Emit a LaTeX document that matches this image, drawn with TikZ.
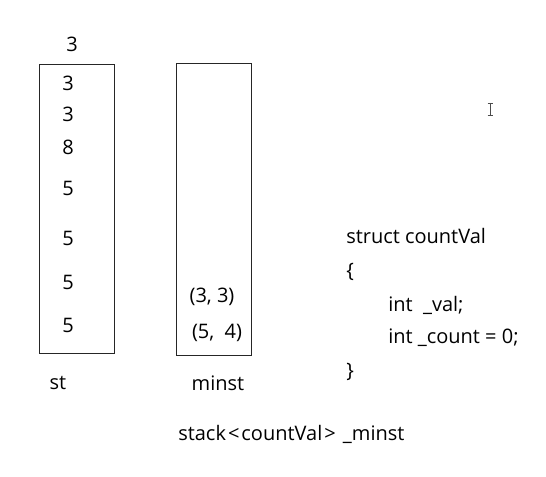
\documentclass[tikz,border=0pt]{standalone}
\usepackage{fontspec}
\setmainfont{Open Sans}
\begin{document}
\begin{tikzpicture}[x=0.75pt,y=0.75pt,yscale=-1,xscale=1,
  txt/.style={inner sep=0.75pt,font=\fontsize{15}{18}\selectfont},
  box/.style={draw=black!85,line width=0.75pt}]
\path (0,0) rectangle (546,477); %set diagram size

%Shape: Rectangle [id:st]
\draw [box] (39,65) rectangle (114,353) ;
%Shape: Rectangle [id:minst]
\draw [box] (176,64) rectangle (251,355) ;
%Shape: Cursor
\draw [black!70,line width=0.6pt] (490,103) -- (490,115) (487.5,103) -- (492.5,103) (487.5,115) -- (492.5,115) ;

% Text Node
\node [txt] (top) at (72,44) {3};
% Text Node
\node [txt] (s1) at (68,83) {3};
% Text Node
\node [txt] (s2) at (68,114) {3};
% Text Node
\node [txt] (s3) at (68,147) {8};
% Text Node
\node [txt] (s4) at (68,188) {5};
% Text Node
\node [txt] (s5) at (68,238) {5};
% Text Node
\node [txt] (s6) at (68,282) {5};
% Text Node
\node [txt] (s7) at (68,325) {5};
% Text Node
\node [txt] (m1) at (212,297) {(3, 3)};
% Text Node
\node [txt] (m2) at (217,333) {(5, \ 4)};
% Text Node
\node [txt] (stname) at (58,383) {st};
% Text Node
\node [txt] (minstname) at (218,383) {minst};
% Text Node
\node [txt,anchor=west] (struct) at (345,236) {struct countVal};
% Text Node
\node [txt,anchor=west] (lbrace) at (345,272) {\{};
% Text Node
\node [txt,anchor=west] (val) at (387,305) {int \ \_val;};
% Text Node
\node [txt,anchor=west] (count) at (387,338) {int \_count = 0;};
% Text Node
\node [txt,anchor=west] (rbrace) at (345,372) {\}};
% Text Node
\node [txt,anchor=west] (decl) at (177,434) {stack\kern1.5pt<\kern1.5pt countVal\kern1.5pt>\kern1.5pt\ \_minst};

\end{tikzpicture}
\end{document}
